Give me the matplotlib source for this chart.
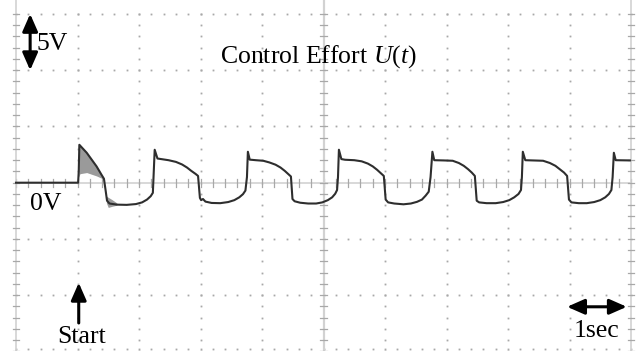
import numpy as np
import matplotlib; matplotlib.use("Agg")
import matplotlib.pyplot as plt

plt.rcParams.update({"font.family": ["Liberation Serif", "DejaVu Serif"],
                     "mathtext.fontset": "custom",
                     "mathtext.rm": "Liberation Serif",
                     "mathtext.it": "Liberation Serif:italic"})

# scope trace: time (s, 1 s/div), voltage (V, 5 V/div)
trace_t = [0.00, 1.01, 1.02, 1.03, 1.15, 1.31, 1.39, 1.43, 1.46, 1.48, 1.52, 1.64, 1.80, 1.95, 2.05,
           2.13, 2.19, 2.225, 2.24, 2.255,
           2.30, 2.36, 2.48, 2.60, 2.70, 2.78, 2.85, 2.92, 2.96, 2.99, 3.01, 3.04, 3.08, 3.18, 3.32,
           3.45, 3.55, 3.63, 3.69, 3.73, 3.755,
           3.77, 3.80, 3.90, 4.02, 4.12, 4.22, 4.30, 4.37, 4.43, 4.47, 4.495, 4.53, 4.62, 4.75, 4.88,
           4.98, 5.07, 5.14, 5.19, 5.22, 5.235,
           5.25, 5.29, 5.35, 5.50, 5.62, 5.72, 5.80, 5.87, 5.93, 5.98, 6.01, 6.05, 6.15, 6.30, 6.42,
           6.52, 6.60, 6.66, 6.71, 6.74,
           6.77, 6.80, 6.95, 7.10, 7.20, 7.28, 7.35, 7.41, 7.46, 7.49, 7.53, 7.65, 7.80, 7.92, 8.02,
           8.10, 8.17, 8.21, 8.225,
           8.24, 8.28, 8.40, 8.57, 8.68, 8.77, 8.84, 8.91, 8.96, 8.99, 9.03, 9.15, 9.28, 9.40, 9.50,
           9.58, 9.64, 9.68, 9.70, 9.72, 9.75, 9.98]
trace_v = [0.00, 0.00, 1.00, 3.37, 2.66, 1.45, 0.71, 0.35, -0.80, -1.60, -1.85, -1.95, -1.97, -1.90, -1.75,
           -1.50, -1.20, -0.90, 1.00, 2.93,
           2.15, 2.10, 2.00, 1.85, 1.62, 1.35, 1.05, 0.78, 0.60, -1.35, -1.55, -1.45, -1.68, -1.80, -1.82,
           -1.72, -1.55, -1.30, -1.02, -0.70, 0.50,
           2.75, 2.05, 2.00, 1.95, 1.80, 1.60, 1.35, 1.05, 0.75, 0.55, -1.45, -1.65, -1.78, -1.85, -1.85,
           -1.75, -1.55, -1.30, -0.98, -0.65, 0.50,
           2.93, 2.10, 2.04, 2.00, 1.90, 1.70, 1.45, 1.15, 0.85, 0.60, -1.50, -1.75, -1.85, -1.92, -1.85,
           -1.70, -1.50, -1.15, -0.80, 0.50,
           2.75, 2.00, 1.98, 1.95, 1.75, 1.50, 1.20, 0.90, 0.60, -1.60, -1.75, -1.82, -1.82, -1.72, -1.55,
           -1.30, -1.00, -0.65, 0.50,
           2.75, 2.00, 1.98, 1.95, 1.75, 1.50, 1.20, 0.90, 0.60, -1.50, -1.75, -1.82, -1.82, -1.72, -1.55,
           -1.30, -1.00, -0.65, 0.50, 2.66, 2.00, 1.98]

# high-frequency ringing right after start (envelopes)
ring_t = [1.02, 1.04, 1.15, 1.31, 1.39, 1.43]
ring_hi = [3.20, 3.37, 2.66, 1.45, 0.71, 0.40]
ring_lo = [0.50, 0.80, 0.90, 0.60, 0.40, 0.30]
ring2_t = [1.47, 1.50, 1.56, 1.64]
ring2_hi = [-1.20, -1.30, -1.50, -1.80]
ring2_lo = [-1.80, -2.20, -2.10, -2.00]

fig = plt.figure(figsize=(6.36, 3.51), dpi=100)
ax = fig.add_axes([0, 0, 1, 1])
ax.set_xlim(-0.26, 10.08)
ax.set_ylim(-14.96, 16.24)
ax.axis("off")

GRID = "#a8a8a8"; LINE = "#d2d2d2"
# dotted graticule
vdots = np.arange(-15, 16, 1.0)
hdots = np.arange(0, 10.01, 0.2)
for t in [1, 2, 3, 4, 6, 7, 8, 9]:
    ax.plot([t] * len(vdots), vdots, "s", ms=1.3, color=GRID, mec="none", zorder=1)
for v in [15, 10, 5, -5, -10]:
    ax.plot(hdots, [v] * len(hdots), "s", ms=1.3, color=GRID, mec="none", zorder=1)
ax.plot(hdots, [-14.75] * len(hdots), "s", ms=1.3, color=GRID, mec="none", zorder=1)
# centre lines and borders with minor ticks
ax.plot([0, 10], [0, 0], color=LINE, lw=1.2, zorder=1)
for t in hdots:
    ax.plot([t, t], [-0.35, 0.35], color=GRID, lw=0.9, zorder=1)
for tx in [0, 5, 10]:
    ax.plot([tx, tx], [-15, 16.2], color=LINE, lw=1.6 if tx == 5 else 1.2, zorder=1)
    for v in vdots:
        ax.plot([tx - 0.05, tx + 0.05], [v, v], color=GRID, lw=0.9, zorder=1)

# trace
ax.fill_between(ring_t, ring_lo, ring_hi, color="#9a9a9a", lw=0, zorder=2)
ax.fill_between(ring2_t, ring2_lo, ring2_hi, color="#9a9a9a", lw=0, zorder=2)
ax.plot(trace_t, trace_v, color="#2e2e2e", lw=1.5, zorder=3)

# annotations
fs = 18.5
arr = dict(arrowstyle="<|-|>,head_length=0.75,head_width=0.33", color="black", lw=2.2,
           shrinkA=0, shrinkB=0, mutation_scale=14)
ax.annotate("", xy=(0.23, 15), xytext=(0.23, 10), arrowprops=arr)
ax.text(0.34, 11.8, "5V", fontsize=fs, va="baseline", ha="left")
ax.text(3.32, 10.67, r"Control Effort $U$($t$)", fontsize=fs, va="baseline", ha="left")
ax.text(0.23, -2.43, "0V", fontsize=fs, va="baseline", ha="left")
ax.annotate("", xy=(1.02, -8.9), xytext=(1.02, -12.47),
            arrowprops=dict(arrowstyle="-|>,head_length=0.75,head_width=0.33", color="black",
                            lw=2.2, shrinkA=0, shrinkB=0, mutation_scale=14))
ax.text(0.67, -14.24, "Start", fontsize=fs, va="baseline", ha="left")
ax.annotate("", xy=(9.93, -11.03), xytext=(8.96, -11.03), arrowprops=arr)
ax.text(9.06, -13.71, "1sec", fontsize=fs, va="baseline", ha="left")

fig.savefig("out.png", dpi=100)
